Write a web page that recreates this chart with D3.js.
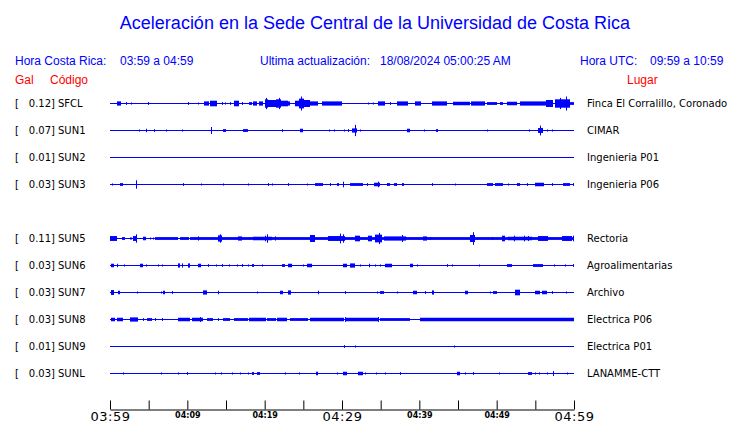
<!DOCTYPE html>
<html><head><meta charset="utf-8">
<script src="https://cdn.jsdelivr.net/npm/d3@7"></script>
<style>
html,body{margin:0;padding:0;background:#fff;}
svg{display:block;}
</style>
</head><body>
<svg id="chart" width="740" height="423"></svg>
<script>
// ---------- DATA ----------
const title = "Aceleración en la Sede Central de la Universidad de Costa Rica";
const horaCR = "03:59 a 04:59";
const horaUTC = "09:59 a 10:59";
const ultima = "18/08/2024 05:00:25 AM";

const codes  = ["SFCL","SUN1","SUN2","SUN3","SUN5","SUN6","SUN7","SUN8","SUN9","SUNL"];
const slots  = [0,1,2,3,5,6,7,8,9,10];          // SUN4 slot left empty
const gal    = ["0.12","0.07","0.01","0.03","0.11","0.03","0.03","0.03","0.01","0.03"];
const places = ["Finca El Corralillo, Coronado","CIMAR","Ingenieria P01","Ingenieria P06","Rectoria",
                "Agroalimentarias","Archivo","Electrica P06","Electrica P01","LANAMME-CTT"];

// bursts: [start minute, end minute, relative amplitude]
const sfcl = [[0.9,1.4,3],[2.1,2.1,2],[2.7,2.7,1.5],[4.9,4.9,2],[10.1,10.1,2],[11.4,11.4,1],[12.2,12.8,3],[12.9,13.8,4],
  [14.5,14.5,2],[14.9,14.9,1.5],[15.5,15.5,2],[16.0,16.6,4],[17.1,17.1,2],[18.0,18.4,2],[18.5,19.0,3],[19.3,19.8,3],
  [20.0,20.4,6],[20.2,20.2,8],[20.4,21.5,5],[21.5,22.1,6],[21.8,21.8,8],[22.1,23.0,4],[23.0,23.3,3],
  [23.9,24.4,4],[24.4,25.0,7],[24.7,24.7,10],[25.0,25.9,5],[25.9,26.9,3],
  [27.4,30.0,3],[33.4,33.4,1],[34.0,34.0,1],[34.7,35.6,3],[36.2,36.2,2],[37.1,38.5,3],[39.4,40.2,3],[41.6,43.6,3],
  [44.4,46.6,2.5],[46.7,48.5,3],[48.7,50.0,2],[50.4,50.8,2],[51.3,52.6,2.5],[53.0,56.4,3],[56.4,57.3,5],
  [57.5,59.5,6],[58.2,58.2,8],[59.0,59.0,10],[59.5,60,2]];
const sun1 = [[3.7,3.7,1.5],[4.7,4.7,2.5],[5.7,5.7,2],[7.2,7.2,1],[9.3,9.3,1],[13.0,13.0,5],[14.6,15.0,2],[17.2,17.8,2],
  [22.2,22.2,2],[24.6,25.0,2.5],[28.3,28.3,1],[29.0,29.0,1.5],[30.3,30.3,1.5],[30.8,30.8,2],[31.3,31.9,3],[31.7,31.7,8],
  [32.3,32.3,1.5],[38.4,38.8,2.5],[40.6,40.6,1.5],[42.2,42.4,2],[48.7,48.7,1],[54.2,54.2,1.5],[55.3,55.9,3.5],
  [55.6,55.6,7],[56.5,56.5,1.5],[57.2,57.2,1.5]];
const sun2 = [];
const sun3 = [[0.2,0.2,1.5],[1.3,1.7,2],[3.4,3.4,6],[9.4,9.4,2],[11.8,11.8,1],[14.6,14.6,1.5],[17.8,17.8,1.5],[20.4,20.4,2],
  [20.9,20.9,1.5],[23.0,23.0,2],[25.5,25.5,1],[26.5,27.5,2],[28.4,28.4,2],[29.4,29.7,2],[30.1,30.1,4],[31.0,32.7,2],
  [33.2,33.2,2],[34.1,34.9,2.5],[34.6,34.6,4],[35.8,36.2,2],[36.7,37.1,2],[37.8,38.1,2],[41.6,41.6,2],[44.6,44.6,1],
  [48.7,49.5,2],[49.8,50.8,2],[51.5,51.5,1.5],[52.6,53.0,2],[53.9,53.9,2],[55.0,56.2,2.5],[57.2,57.2,2],[58.6,59.5,2],[59.9,59.9,2]];
const sun5 = [[5.8,8.8,2],[9.1,10.2,2],[10.4,60,2],
  [0.0,0.9,3.5],[1.6,2.0,2],[2.6,2.8,1.5],[3.0,3.5,3.5],[3.4,3.4,6],[4.3,4.7,2.5],[5.2,5.2,1.5],[5.6,5.6,1.5],[11.4,11.4,3],
  [14.0,14.5,4.5],[14.2,14.2,6],[16.5,17.0,3],[18.5,21.0,2.5],[20.0,20.0,4],[20.3,20.3,6],[21.3,21.3,3],[25.9,26.5,5],
  [28.2,30.4,3.5],[29.7,29.7,7],[30.1,30.1,6],[31.7,32.3,4],[33.4,33.9,4],[34.3,35.2,5.5],[34.8,34.8,8],[35.4,38.2,3],
  [37.8,37.8,5],[40.5,41.0,3],[41.4,41.4,2],[46.5,47.2,5],[46.9,46.9,9],[49.4,49.4,2],[50.7,51.1,4],[51.5,54.6,2.5],
  [52.3,52.3,4],[53.5,53.5,4],[54.0,54.0,3.5],[55.4,56.7,3.5],[58.5,59.8,3.5],[59.9,60,4]];
const sun6 = [[0.1,0.5,2.5],[0.9,1.0,2.5],[1.8,1.8,1],[3.9,4.3,2.5],[4.7,4.7,1.5],[6.2,6.2,1.5],[6.7,6.7,1],[8.8,9.1,3],
  [9.3,9.4,3],[10.1,10.3,3],[11.4,11.8,2.5],[12.7,12.7,2],[13.7,13.7,1.5],[14.5,14.5,2],[15.4,15.4,1.5],[16.4,16.4,1.5],
  [17.1,17.1,2],[17.8,17.8,1.5],[18.4,18.7,2],[19.6,19.6,1.5],[22.2,22.6,2],[23.0,23.5,2.5],[24.9,24.9,1.5],[25.5,26.1,2.5],
  [30.1,30.6,2.5],[31.0,31.6,3],[32.3,32.3,1.5],[33.5,33.5,2.5],[34.3,34.3,1.5],[34.9,34.9,1.5],[35.6,36.5,2.5],
  [38.8,39.2,2.5],[39.7,39.7,1.5],[43.6,43.6,2],[44.2,44.2,1.5],[47.7,47.7,1],[51.3,52.0,2],[54.7,56.0,2],[57.4,57.4,1.5],
  [58.8,58.8,1.5],[59.9,59.9,2]];
const sun7 = [[0.1,0.5,3.5],[1.0,1.3,2.5],[3.5,3.5,1.5],[6.6,6.6,1.5],[6.9,7.2,2.5],[8.0,8.0,2],[12.0,12.5,3],[14.0,14.0,2.5],
  [19.0,19.0,1],[22.0,22.4,2.5],[23.0,23.4,3],[26.9,26.9,2.5],[30.4,30.4,2],[34.5,34.5,1.5],[34.9,35.4,2],[37.1,37.1,1.5],
  [39.2,39.7,2.5],[40.7,40.7,2],[41.6,41.9,3],[45.9,46.3,2.5],[49.1,49.1,1],[49.5,50.0,2],[52.4,53.1,4],[54.9,55.6,2.5],
  [55.9,56.5,2.5],[57.2,57.2,2],[59.0,59.0,1.5]];
const sun8 = [[0.1,0.6,2.5],[0.9,1.7,2.5],[2.6,3.6,3],[4.3,4.3,2],[4.8,5.4,2],[5.8,5.8,2],[6.7,6.7,2],[8.8,10.3,2.5],
  [10.6,12.0,2.5],[11.6,11.6,3.5],[12.5,13.3,2],[14.0,14.0,2],[14.6,15.5,2],[16.0,17.8,2],[18.0,20.2,2.5],[20.3,21.5,2],
  [21.6,22.9,2.5],[23.3,25.6,2],[25.9,30.3,2.5],[30.4,30.4,3.5],[30.5,34.6,2.5],[34.6,34.6,3.5],[34.9,38.8,2],[40.1,60,2.5]];
const sun9 = [[30.3,30.3,2],[31.7,31.7,1.5],[44.5,44.5,1]];
const sunl = [[1.7,1.7,1.5],[6.6,6.6,1],[8.8,8.8,1],[9.9,9.9,2],[13.6,13.6,1],[14.4,14.4,1.5],[15.8,15.8,1.5],[16.8,16.8,1],
  [17.8,17.8,1],[18.4,18.6,2],[19.0,19.4,2],[22.6,22.6,1.5],[24.4,24.4,1.5],[26.6,26.9,2.5],[29.4,29.4,1.5],[30.1,30.6,2.5],
  [32.1,32.7,2.5],[33.0,33.0,1.5],[34.4,34.4,1.5],[35.6,35.6,1],[37.5,37.5,2],[44.9,45.3,2.5],[45.9,45.9,1.5],[46.9,46.9,2],
  [50.3,50.3,1],[54.1,54.6,2],[55.0,55.0,1.5],[55.5,55.5,1.5],[56.5,56.5,1.5],[57.3,57.3,3.5],[59.1,59.1,1.5]];
const bursts = [sfcl,sun1,sun2,sun3,sun5,sun6,sun7,sun8,sun9,sunl];

const tickValues = [0,5,10,15,20,25,30,35,40,45,50,55,60];
const labelValues = [0,10,20,30,40,50,60];
const labelTexts = ["03:59","04:09","04:19","04:29","04:39","04:49","04:59"];
const majorValues = [0,30,60];

// ---------- DRAW ----------
const BLUE = "#0000ff", RED = "#ff0000";
const svg = d3.select("#chart");
const x = d3.scaleLinear().domain([0,60]).range([110,574]);
const y = d3.scalePoint().domain(d3.range(11)).range([103,373]);
const amp = d3.scaleLinear().domain([0,10]).range([0,7]);

const sans = "'Liberation Sans', Arial, sans-serif";
const dj = "'DejaVu Sans', sans-serif";

svg.append("text").attr("x",375).attr("y",29).attr("text-anchor","middle")
  .attr("font-family",sans).attr("font-size",18).attr("fill",BLUE).text(title);

const hdr = [[15,"Hora Costa Rica:"],[120,horaCR],[260,"Ultima actualización:"],[380,ultima],[580,"Hora UTC:"],[650,horaUTC]];
svg.selectAll("text.hdr").data(hdr).join("text").attr("class","hdr")
  .attr("x",d=>d[0]).attr("y",65).attr("font-family",sans).attr("font-size",12).attr("fill",BLUE).text(d=>d[1]);

const red = [[15,"Gal"],[50,"Código"],[627,"Lugar"]];
svg.selectAll("text.red").data(red).join("text").attr("class","red")
  .attr("x",d=>d[0]).attr("y",84).attr("font-family",sans).attr("font-size",12).attr("fill",RED).text(d=>d[1]);

const rows = svg.selectAll("g.row").data(codes.map((c,i)=>({c,i,slot:slots[i]}))).join("g").attr("class","row");

rows.append("text").attr("x",15).attr("y",d=>y(d.slot)+4).attr("font-family",dj).attr("font-size",10).text("[");
rows.append("text").attr("x",55).attr("y",d=>y(d.slot)+4).attr("text-anchor","end").attr("font-family",dj).attr("font-size",10).text(d=>gal[d.i]+"]");
rows.append("text").attr("x",58).attr("y",d=>y(d.slot)+4).attr("font-family",dj).attr("font-size",10).text(d=>d.c);
rows.append("text").attr("x",587).attr("y",d=>y(d.slot)+4).attr("font-family",dj).attr("font-size",10).text(d=>places[d.i]);

rows.append("line").attr("x1",x(0)).attr("x2",x(60)).attr("y1",d=>y(d.slot)+0.5).attr("y2",d=>y(d.slot)+0.5)
  .attr("stroke",BLUE).attr("stroke-width",1.2);

rows.each(function(d){
  const cy = y(d.slot) + 0.5;
  d3.select(this).selectAll("rect").data(bursts[d.i]).join("rect")
    .attr("x",b=>Math.round(x(b[0])))
    .attr("width",b=>Math.max(1,Math.round(x(b[1])-x(b[0]))))
    .attr("y",b=>cy - Math.max(1, amp(b[2])))
    .attr("height",b=>2*Math.max(1, amp(b[2])))
    .attr("fill",BLUE);
});

// axis
const axis = d3.axisBottom(x).tickValues(tickValues).tickSize(-9).tickSizeOuter(0)
  .tickFormat(v=>{const k=labelValues.indexOf(v);return k<0?"":labelTexts[k];});
const ag = svg.append("g").attr("transform","translate(0,409.5)").call(axis);
ag.select(".domain").attr("stroke","#000");
ag.selectAll(".tick line").attr("stroke","#000");
ag.selectAll(".tick text").attr("fill","#000").attr("dy",null)
  .attr("font-family",dj)
  .attr("font-size",v=>majorValues.includes(v)?13:8)
  .attr("font-weight",v=>majorValues.includes(v)?"normal":"bold")
  .attr("letter-spacing",v=>majorValues.includes(v)?"0.5px":"0")
  .attr("y",v=>majorValues.includes(v)?11:8.5);
</script>
</body></html>
